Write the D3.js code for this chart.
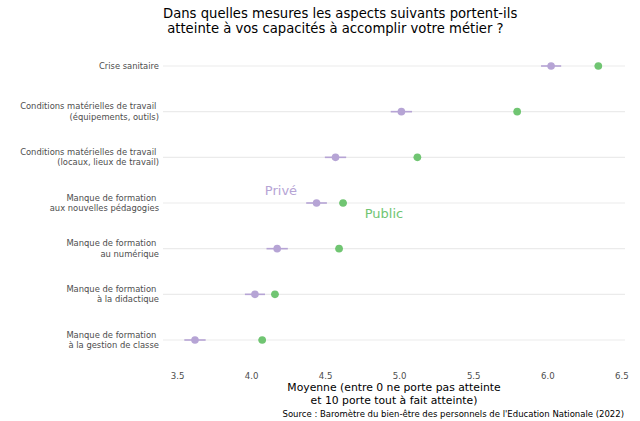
<!DOCTYPE html>
<html><head><meta charset="utf-8">
<script src="https://cdn.jsdelivr.net/npm/d3@7"></script>
<style>
body{margin:0;background:#fff;}
text{font-family:"DejaVu Sans",sans-serif;}
</style></head>
<body><svg id="c" width="640" height="421"></svg>
<script>
const categories = [
  ["Crise sanitaire"],
  ["Conditions matérielles de travail ", "(équipements, outils)"],
  ["Conditions matérielles de travail ", "(locaux, lieux de travail)"],
  ["Manque de formation ", "aux nouvelles pédagogies"],
  ["Manque de formation ", "au numérique"],
  ["Manque de formation ", "à la didactique"],
  ["Manque de formation ", "à la gestion de classe"]
];
const prive = [6.026, 5.015, 4.570, 4.442, 4.176, 4.026, 3.621];
const priveErr = [0.068, 0.072, 0.072, 0.070, 0.072, 0.068, 0.072];
const publicVals = [6.345, 5.797, 5.123, 4.621, 4.594, 4.161, 4.075];
const publicErr = [0.025, 0.025, 0.025, 0.025, 0.025, 0.025, 0.025];
const xTicks = [3.5, 4.0, 4.5, 5.0, 5.5, 6.0, 6.5];
const titleLines = ["Dans quelles mesures les aspects suivants portent-ils", " atteinte à vos capacités à accomplir votre métier ?"];
const xTitleLines = ["Moyenne (entre 0 ne porte pas atteinte", "et 10 porte tout à fait atteinte)"];
const source = "Source : Baromètre du bien-être des personnels de l'Education Nationale (2022)";

const colPrive = "#b6a4d5", colPublic = "#70c572";
const svg = d3.select("#c");
const x = d3.scaleLinear().domain([3.405, 6.525]).range([163, 625]);
const keys = categories.map((c,i)=>i);
const y = d3.scalePoint().domain(keys).range([66, 340]);

// grid
svg.append("g").selectAll("line").data(keys).join("line")
  .attr("x1", x.range()[0]).attr("x2", x.range()[1])
  .attr("y1", d=>y(d)).attr("y2", d=>y(d))
  .attr("stroke", "#ebebeb").attr("stroke-width", 1.1);

// y labels
const yl = svg.append("g").attr("font-size", 8.4).attr("fill", "#4d4d4d").attr("text-anchor","end");
categories.forEach((lines,i)=>{
  const n = lines.length;
  lines.forEach((t,j)=>{
    yl.append("text").attr("x", 159).attr("y", y(i) + (j-(n-1)/2)*10.3)
      .attr("dy","0.35em").attr("xml:space","preserve").style("white-space","pre").text(t);
  });
});

// x axis
const xa = svg.append("g").attr("transform","translate(0,376)")
  .call(d3.axisBottom(x).tickValues(xTicks).tickFormat(d3.format(".1f")).tickSize(0).tickPadding(0));
xa.select(".domain").remove();
xa.selectAll("text").attr("font-size",8.6).attr("fill","#4d4d4d").attr("font-family","DejaVu Sans").attr("dy","0.35em").attr("y",0);

// error bars + points
function series(vals, errs, col, w){
  const g = svg.append("g");
  g.selectAll("line").data(keys).join("line")
    .attr("x1", i=>x(vals[i]-errs[i])).attr("x2", i=>x(vals[i]+errs[i]))
    .attr("y1", i=>y(i)).attr("y2", i=>y(i))
    .attr("stroke", col).attr("stroke-width", w);
  g.selectAll("circle").data(keys).join("circle")
    .attr("cx", i=>x(vals[i])).attr("cy", i=>y(i)).attr("r", 3.8).attr("fill", col);
}
series(prive, priveErr, colPrive, 1.6);
series(publicVals, publicErr, colPublic, 1.6);

// direct labels
svg.append("text").attr("x", 281).attr("y", 195).attr("text-anchor","middle")
  .attr("font-size",13).attr("fill",colPrive).text("Privé");
svg.append("text").attr("x", 384).attr("y", 218).attr("text-anchor","middle")
  .attr("font-size",13).attr("fill",colPublic).text("Public");

// title
titleLines.forEach((t,j)=>{
  svg.append("text").attr("x",163).attr("y",18+j*14.5).attr("font-size",13.2)
    .attr("fill","#000").attr("xml:space","preserve").style("white-space","pre").text(t);
});
// x title
xTitleLines.forEach((t,j)=>{
  svg.append("text").attr("x",394).attr("y",391+j*13).attr("font-size",10.8)
    .attr("text-anchor","middle").attr("fill","#000").text(t);
});
svg.append("text").attr("x",624).attr("y",417).attr("font-size",8.5)
  .attr("text-anchor","end").attr("fill","#000").text(source);
</script></body></html>
